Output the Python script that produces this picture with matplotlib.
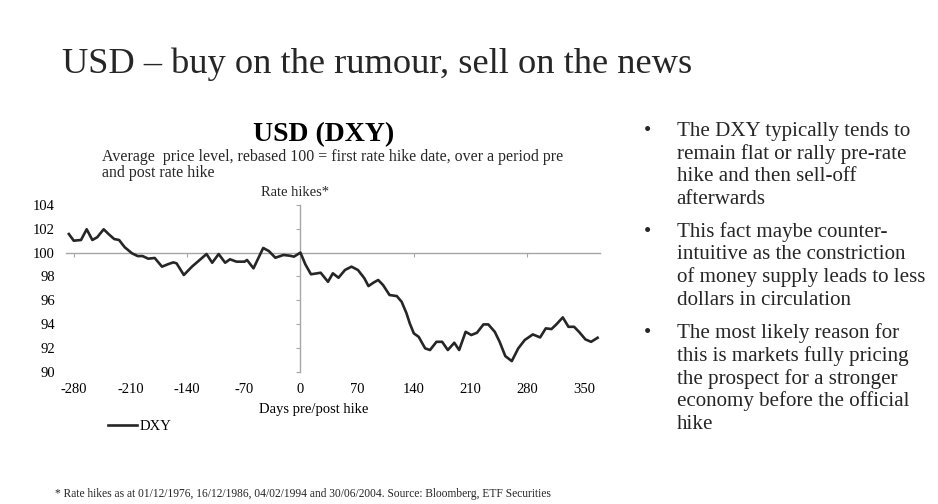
import matplotlib
matplotlib.use("Agg")
import matplotlib.pyplot as plt

# average DXY level, rebased to 100 on the first rate hike date
days = [-286, -280, -271, -264, -257, -251, -243, -237, -230, -224,
        -217, -208, -201, -195, -188, -180, -171, -163, -157, -153,
        -144, -134, -116, -109, -101, -93, -87, -79, -69, -66,
        -58, -46, -39, -31, -21, -13, -8, 0, 6, 13,
        25, 34, 40, 47, 55, 63, 71, 79, 84, 90,
        96, 102, 110, 119, 125, 131, 135, 140, 146, 154,
        160, 168, 175, 182, 190, 196, 204, 211, 218, 226,
        232, 240, 246, 253, 261, 269, 277, 287, 296, 303,
        310, 316, 324, 331, 338, 344, 352, 359, 367]
dxy = [101.56, 101.00, 101.06, 101.96, 101.06, 101.29, 101.96, 101.56, 101.14, 101.06,
       100.45, 99.94, 99.71, 99.71, 99.49, 99.55, 98.82, 99.04, 99.18, 99.10,
       98.12, 98.82, 99.88, 99.15, 99.88, 99.15, 99.44, 99.24, 99.24, 99.38,
       98.68, 100.39, 100.13, 99.57, 99.80, 99.74, 99.66, 100.00, 99.02, 98.18,
       98.31, 97.55, 98.26, 97.89, 98.54, 98.82, 98.54, 97.84, 97.19, 97.47,
       97.70, 97.28, 96.44, 96.35, 95.87, 94.90, 94.06, 93.22, 92.93, 91.96,
       91.82, 92.51, 92.51, 91.82, 92.43, 91.82, 93.35, 93.08, 93.27, 93.97,
       93.97, 93.35, 92.51, 91.31, 90.89, 91.96, 92.66, 93.13, 92.88, 93.64,
       93.58, 93.97, 94.56, 93.77, 93.77, 93.35, 92.71, 92.51, 92.85]

day_ticks = [-280, -210, -140, -70, 0, 70, 140, 210, 280, 350]
axis_ticks = [-280, -140, 140, 280]
level_ticks = [90, 92, 94, 96, 98, 100, 102, 104]

bullets = [
    ["The DXY typically tends to", "remain flat or rally pre-rate",
     "hike and then sell-off", "afterwards"],
    ["This fact maybe counter-", "intuitive as the constriction",
     "of money supply leads to less", "dollars in circulation"],
    ["The most likely reason for", "this is markets fully pricing",
     "the prospect for a stronger", "economy before the official", "hike"],
]

plt.rcParams["font.family"] = ["Liberation Serif", "DejaVu Serif"]
plt.rcParams["axes.unicode_minus"] = False
TXT = "#262626"
AXC = "#a6a6a6"

fig = plt.figure(figsize=(9.38, 5.04), dpi=100)
fig.patch.set_facecolor("white")

ax = fig.add_axes([0.0704, 0.2625, 0.5693, 0.3308])
ax.plot(days, dxy, color="#262626", lw=1.9, zorder=3, label="DXY")
ax.set_xlim(-289.5, 370)
ax.set_ylim(90, 104)

for s in ["top", "right"]:
    ax.spines[s].set_visible(False)
ax.spines["bottom"].set_position(("data", 100))
ax.spines["left"].set_position(("data", 0))
for s in ["bottom", "left"]:
    ax.spines[s].set_color(AXC)
    ax.spines[s].set_linewidth(1.0)
ax.set_xticks(axis_ticks)
ax.set_yticks(level_ticks)
ax.tick_params(axis="both", direction="out", length=3, color=AXC,
               labelbottom=False, labelleft=False)

# tick labels sit at the outer edges of the plot, not on the crossing axes
secx = ax.secondary_xaxis("bottom")
secx.set_xticks(day_ticks)
secx.spines["bottom"].set_visible(False)
secx.tick_params(length=0, pad=8, labelsize=10.5, labelcolor="black")
secy = ax.secondary_yaxis("left")
secy.set_yticks(level_ticks)
secy.spines["left"].set_visible(False)
secy.tick_params(length=0, pad=8, labelsize=10.5, labelcolor="black")

ax.legend(loc="center left", bbox_to_anchor=(0.115, 0.1534),
          bbox_transform=fig.transFigure, frameon=False, fontsize=10.5,
          handlelength=2.0, handletextpad=0.15, borderpad=0, borderaxespad=0)

# headings
fig.text(0.0661, 0.8558, "USD – buy on the rumour, sell on the news",
         fontsize=26.2, color=TXT, va="baseline", ha="left")
fig.text(0.3454, 0.7202, "USD (DXY)", fontsize=20, fontweight="bold",
         color="black", va="baseline", ha="center")
fig.text(0.1084, 0.681,
         "Average  price level, rebased 100 = first rate hike date, over a period pre",
         fontsize=11.4, color=TXT, va="baseline", ha="left")
fig.text(0.1084, 0.6494, "and post rate hike",
         fontsize=11.4, color=TXT, va="baseline", ha="left")
fig.text(0.3145, 0.6117, "Rate hikes*", fontsize=10.5, color=TXT,
         va="baseline", ha="center")
fig.text(0.3348, 0.18, "Days pre/post hike", fontsize=10.5, color="black",
         va="baseline", ha="center")
fig.text(0.0586, 0.0145,
         "* Rate hikes as at 01/12/1976, 16/12/1986, 04/02/1994 and 30/06/2004. "
         "Source: Bloomberg, ETF Securities",
         fontsize=8.3, color=TXT, va="baseline", ha="left")

# bullet points on the right
line_h = 22.7 / 504
group_top = [136, 236.7, 338.3]
for top_px, lines in zip(group_top, bullets):
    y0 = 1 - top_px / 504
    fig.text(0.6908, y0, "•", fontsize=15, color=TXT, va="baseline", ha="center")
    for i, line in enumerate(lines):
        fig.text(0.7214, y0 - i * line_h, line, fontsize=15.1, color=TXT,
                 va="baseline", ha="left")

fig.savefig("out.png", dpi=100, facecolor="white")
